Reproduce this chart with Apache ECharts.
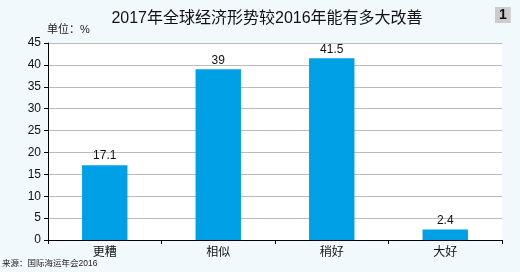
<!DOCTYPE html>
<html>
<head>
<meta charset="utf-8">
<script src="https://cdn.jsdelivr.net/npm/echarts@6/dist/echarts.min.js"></script>
<style>
  html, body { margin: 0; padding: 0; background: #f2f9fd; }
  #chart { width: 520px; height: 272px; }
</style>
</head>
<body>
<div id="chart"></div>
<script>
const categories = ["更糟", "相似", "稍好", "大好"];
const values = [17.1, 39, 41.5, 2.4];
const yTicks = [0, 5, 10, 15, 20, 25, 30, 35, 40, 45];

const chart = echarts.init(document.getElementById("chart"));

const option = {
    backgroundColor: "#f2f9fd",
    animation: false,
    textStyle: { fontFamily: "Liberation Sans, Noto Sans CJK SC" },
    title: [
        {
            text: "2017年全球经济形势较2016年能有多大改善",
            left: 262,
            textAlign: "center",
            top: 6,
            textStyle: { fontSize: 16, fontWeight: "normal", color: "#111" },
        },
        {
            text: "1",
            left: 495,
            top: 7,
            padding: [1, 4, 1, 4],
            backgroundColor: "#cccccc",
            textStyle: { fontSize: 14, fontWeight: "bold", color: "#111" },
        },
        {
            text: "单位：%",
            left: 47,
            top: 24,
            padding: 0,
            textStyle: { fontSize: 11, fontWeight: "normal", color: "#222" },
        },
        {
            text: "来源：国际海运年会2016",
            left: 2,
            top: 259,
            padding: 0,
            textStyle: { fontSize: 8.5, fontWeight: "normal", color: "#222" },
        },
    ],
    grid: {
        left: 48,
        right: 18,
        top: 43,
        bottom: 32,
        show: true,
        backgroundColor: "#ffffff",
        borderWidth: 0,
    },
    xAxis: {
        type: "category",
        data: categories,
        axisLine: { lineStyle: { color: "#000", width: 1 } },
        axisTick: { show: true, length: 4, lineStyle: { color: "#000" } },
        axisLabel: { color: "#111", fontSize: 12, margin: 7 },
    },
    yAxis: {
        type: "value",
        min: yTicks[0],
        max: yTicks[yTicks.length - 1],
        interval: 5,
        axisLine: { show: true, lineStyle: { color: "#000", width: 1 } },
        axisTick: { show: true, length: 4, lineStyle: { color: "#000" } },
        axisLabel: { color: "#111", fontSize: 12, margin: 7 },
        splitLine: { lineStyle: { color: "#bbbbbb", width: 1 } },
    },
    series: [
        {
            name: "比例",
            type: "bar",
            data: values,
            barWidth: "40%",
            itemStyle: { color: "#00a0e6" },
            label: {
                show: true,
                position: "top",
                color: "#111",
                fontSize: 12,
                distance: 3,
            },
        },
    ],
};

chart.setOption(option);
</script>
</body>
</html>
